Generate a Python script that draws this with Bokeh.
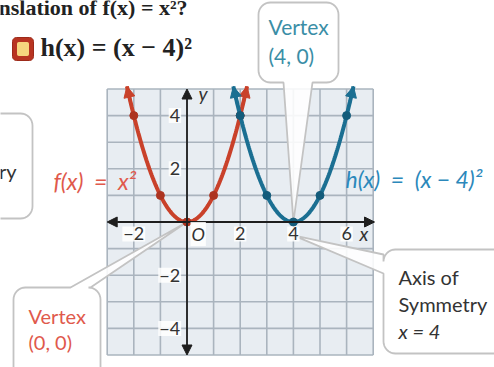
import numpy as np
from bokeh.plotting import figure
from bokeh.models import Range1d, Label, Arrow, NormalHead
from bokeh.embed import file_html
from bokeh.resources import INLINE

W, H = 494, 367

# ---- data -------------------------------------------------------------
grid_x = list(range(-3, 8))
grid_y = list(range(-5, 6))
x_ticks = [-2, 2, 4, 6]
x_tick_labels = ["\u22122", "2", "4", "6"]
y_ticks = [4, 2, -2, -4]
y_tick_labels = ["4", "2", "\u22122", "\u22124"]

f_x = [-2, -1, 0, 1, 2]          # f(x) = x^2
f_y = [4, 1, 0, 1, 4]
h_x = [2, 3, 4, 5, 6]            # h(x) = (x - 4)^2
h_y = [4, 1, 0, 1, 4]
f_vertex = (0, 0)
h_vertex = (4, 0)
axis_of_symmetry = 4
curve_top = 5.1                  # curves run just past the top of the grid

# ---- styling ----------------------------------------------------------
RED = "#c9412a"
RED_DOT = "#ad3420"
BLUE = "#1b6f92"
BLUE_DOT = "#145c7b"
RED_TXT = "#e0594c"
BLUE_TXT = "#2b88bb"
TEAL_TXT = "#3a8ea6"
GRID_FILL = "#e8edf2"
GRID_LINE = "#aab4be"
FONT = "Lato"
EN = "\u2002"

# pixel position of the origin and pixels per unit
OX, OY, S = 186.5, 221.5, 26.6


def dx(px):
    return (px - OX) / S


def dy(py):
    return (OY - py) / S


def callout(l, t, r, b, rad, side=None, base=None, tip=None):
    """Rounded box (pixel coords) with an optional pointer; tip in data units."""
    pts = []
    if tip is not None:
        tip = (OX + tip[0] * S, OY - tip[1] * S)

    def arc(cx, cy, a0, a1):
        for a in np.linspace(a0, a1, 9):
            pts.append((cx + rad * np.cos(a), cy + rad * np.sin(a)))

    arc(l + rad, t + rad, np.pi, 1.5 * np.pi)
    if side == "top":
        pts.extend([(base[0], t), tip, (base[1], t)])
    arc(r - rad, t + rad, 1.5 * np.pi, 2 * np.pi)
    if side == "right":
        pts.extend([(r, base[0]), tip, (r, base[1])])
    arc(r - rad, b - rad, 0, 0.5 * np.pi)
    if side == "bottom":
        pts.extend([(base[0], b), tip, (base[1], b)])
    arc(l + rad, b - rad, 0.5 * np.pi, np.pi)
    if side == "left":
        pts.extend([(l, base[0]), tip, (l, base[1])])
    return [dx(p[0]) for p in pts], [dy(p[1]) for p in pts]


p = figure(width=W, height=H, output_backend="svg", toolbar_location=None,
           x_range=Range1d(dx(0), dx(W)), y_range=Range1d(dy(H), dy(0)),
           x_axis_type=None, y_axis_type=None, min_border=0)
p.outline_line_color = None
p.grid.visible = False
p.background_fill_color = "white"

# ---- coordinate grid --------------------------------------------------
p.quad(left=grid_x[0], right=grid_x[-1], bottom=grid_y[0], top=grid_y[-1],
       fill_color=GRID_FILL, line_color=None)
p.segment(x0=grid_x, x1=grid_x, y0=[grid_y[0]] * len(grid_x),
          y1=[grid_y[-1]] * len(grid_x), line_color=GRID_LINE, line_width=1.6)
p.segment(x0=[grid_x[0]] * len(grid_y), x1=[grid_x[-1]] * len(grid_y),
          y0=grid_y, y1=grid_y, line_color=GRID_LINE, line_width=1.6)

# ---- callout bubbles --------------------------------------------------
bubbles = [
    callout(258, 2, 338, 82, 12, "bottom", (312, 283), h_vertex),
    callout(13, 287, 100, 380, 12, "top", (70, 90), f_vertex),
    callout(383, 249, 520, 353, 12, "left", (273, 254),
            (axis_of_symmetry, -0.5)),
    callout(-80, 113, 32, 218, 12),
]
for bx, by in bubbles:
    p.patch(bx, by, fill_color="white", fill_alpha=0.88,
            line_color="#c3c3c3", line_width=1.8)

# small "B" badge next to the equation
bx, by = callout(12, 37, 33, 60, 4)
p.patch(bx, by, fill_color="#b83421", line_color="#9c2a1a", line_width=1)
bx, by = callout(16.5, 41.5, 28.5, 55.5, 2)
p.patch(bx, by, fill_color="#f6d67e", line_color=None)

# ---- parabolas --------------------------------------------------------
xr = np.sqrt(curve_top)
xs_f = np.linspace(f_vertex[0] - xr, f_vertex[0] + xr, 200)
xs_h = np.linspace(h_vertex[0] - xr, h_vertex[0] + xr, 200)
p.line(xs_f, (xs_f - f_vertex[0]) ** 2 + f_vertex[1], line_color=RED,
       line_width=4)
p.scatter(f_x, f_y, size=8, fill_color=RED_DOT, line_color=RED_DOT)
p.line(xs_h, (xs_h - h_vertex[0]) ** 2 + h_vertex[1], line_color=BLUE,
       line_width=4)
p.scatter(h_x, h_y, size=8, fill_color=BLUE_DOT, line_color=BLUE_DOT)

# arrowheads at the open ends of each curve
for vx, col in ((f_vertex[0], RED), (h_vertex[0], BLUE)):
    for sgn in (-1, 1):
        x0 = vx + sgn * np.sqrt(4.4)
        x1 = vx + sgn * xr
        p.add_layout(Arrow(x_start=x0, y_start=4.4, x_end=x1, y_end=curve_top,
                           line_color=col, line_width=3,
                           end=NormalHead(size=11, fill_color=col,
                                          line_color=col, line_width=1)))

# ---- axes -------------------------------------------------------------
AX = "#1e1e1e"
p.add_layout(Arrow(x_start=grid_x[0], y_start=0, x_end=grid_x[-1] + 0.05, y_end=0,
                   line_color=AX, line_width=1.8,
                   start=NormalHead(size=10, fill_color=AX, line_color=AX),
                   end=NormalHead(size=10, fill_color=AX, line_color=AX)))
p.add_layout(Arrow(x_start=0, y_start=grid_y[0], x_end=0, y_end=grid_y[-1],
                   line_color=AX, line_width=1.8,
                   start=NormalHead(size=10, fill_color=AX, line_color=AX),
                   end=NormalHead(size=10, fill_color=AX, line_color=AX)))

TICK = dict(text_font=FONT, text_font_size="18px", text_color="#333333",
            background_fill_color="white", background_fill_alpha=0.85,
            padding=1)
for t, s in zip(x_ticks, x_tick_labels):
    p.add_layout(Label(x=t, y=-0.45, text=s, text_align="center",
                       text_baseline="middle", **TICK))
for t, s in zip(y_ticks, y_tick_labels):
    p.add_layout(Label(x=-0.22, y=t, text=s, text_align="right",
                       text_baseline="middle", **TICK))
p.add_layout(Label(x=0.42, y=-0.45, text="O", text_align="center",
                   text_baseline="middle", text_font_style="italic", **TICK))
p.add_layout(Label(x=6.65, y=-0.45, text="x", text_align="center",
                   text_baseline="middle", text_font=FONT,
                   text_font_style="italic", text_font_size="19px",
                   text_color="#333333"))
p.add_layout(Label(x=0.6, y=4.82, text="y", text_align="center",
                   text_baseline="middle", text_font=FONT,
                   text_font_style="italic", text_font_size="19px",
                   text_color="#333333"))


def txt(px, py, s, color, size="20px", style="normal", font=FONT,
        align="left", baseline="middle"):
    p.add_layout(Label(x=dx(px), y=dy(py), text=s, text_color=color,
                       text_font=font, text_font_size=size,
                       text_font_style=style, text_align=align,
                       text_baseline=baseline))


# function labels
txt(53, 180, "f(x)" + EN + "=" + EN + "x\u00b2", RED_TXT, size="23px",
    style="italic")
txt(345, 178, "h(x)" + EN + "=" + EN + "(x \u2212 4)\u00b2", BLUE_TXT,
    size="23px", style="italic")

# callout texts
txt(268, 26, "Vertex", TEAL_TXT, size="21px")
txt(268, 55, "(4, 0)", TEAL_TXT, size="21px")
txt(28, 315, "Vertex", RED_TXT, size="20px")
txt(28, 341, "(0, 0)", RED_TXT, size="20px")
txt(398, 276, "Axis of", "#333333", size="20px")
txt(398, 303, "Symmetry", "#333333", size="20px")
txt(398, 330, "x = 4", "#333333", size="20px", style="italic")
txt(16, 170, "Symmetry", "#333333", size="20px", align="right")

# heading lines
txt(-2, 7, "nslation of f(x) = x\u00b2?", "#222222", size="22px", style="bold",
    font="Liberation Serif", baseline="alphabetic")
txt(40, 47, "h(x) = (x \u2212 4)\u00b2", "#222222", size="26px",
    style="bold", font="Liberation Serif")

open("out.html", "w").write(file_html(p, INLINE))
